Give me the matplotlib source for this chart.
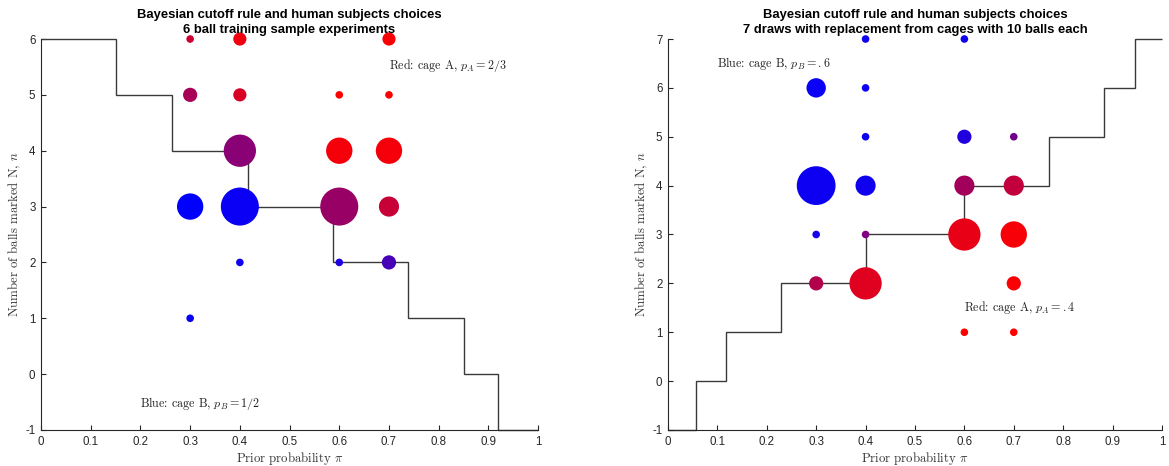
import matplotlib
matplotlib.use("Agg")
import matplotlib.pyplot as plt
import numpy as np

# ---- Experiment 1: 6 ball training sample ----
left_prior = [0.3, 0.4, 0.7, 0.3, 0.4, 0.6, 0.7, 0.4, 0.6, 0.7, 0.3, 0.4, 0.6, 0.7, 0.4, 0.6, 0.7, 0.3]
left_n     = [6,   6,   6,   5,   5,   5,   5,   4,   4,   4,   3,   3,   3,   3,   2,   2,   2,   1]
left_count = [1,   3,   3,   3.5, 3,   1,   1,   18,  12,  12,  12,  25,  25,  7,   1,   1,   3.5, 1]
left_shareA = [0.80, 0.94, 0.98, 0.66, 0.85, 1.0, 1.0, 0.54, 0.96, 0.96, 0.0, 0.04, 0.60, 0.78,
               0.06, 0.12, 0.28, 0.03]
left_cut_edges = [0, 0.151, 0.263, 0.416, 0.587, 0.739, 0.850, 0.919, 1.0]
left_cut_levels = [6, 5, 4, 3, 2, 1, 0, -1]

# ---- Experiment 2: 7 draws with replacement ----
right_prior = [0.4, 0.6, 0.3, 0.4, 0.4, 0.6, 0.7, 0.3, 0.4, 0.6, 0.7, 0.3, 0.4, 0.6, 0.7, 0.3, 0.4, 0.7, 0.6, 0.7]
right_n     = [7,   7,   6,   6,   5,   5,   5,   4,   4,   4,   4,   3,   3,   3,   3,   2,   2,   2,   1,   1]
right_count = [1,   1,   6.5, 1,   1,   3.5, 1,   26,  7,   7,   7,   1,   1,   18,  12,  3.5, 18,  3.5, 1,   1]
right_shareA = [0.06, 0.06, 0.04, 0.05, 0.06, 0.13, 0.45, 0.05, 0.06, 0.64, 0.76, 0.08, 0.50, 0.91,
                0.97, 0.70, 0.88, 0.98, 1.0, 1.0]
right_cut_edges = [0, 0.056, 0.117, 0.229, 0.401, 0.600, 0.772, 0.883, 0.945, 1.0]
right_cut_levels = [-1, 0, 1, 2, 3, 4, 5, 6, 7]

x_ticks = [0, 0.1, 0.2, 0.3, 0.4, 0.5, 0.6, 0.7, 0.8, 0.9, 1]
x_ticklabels = ["0", "0.1", "0.2", "0.3", "0.4", "0.5", "0.6", "0.7", "0.8", "0.9", "1"]

plt.rcParams["mathtext.fontset"] = "cm"
plt.rcParams["axes.unicode_minus"] = False

AX_COLOR = "#262626"
SIZE_PER_SUBJECT = 30


def mix(share):
    return [(s, 0.0, 1.0 - s) for s in share]


def draw_panel(ax, prior, n, count, share, edges, levels, ymin, ymax, title, notes):
    ax.stairs(levels, edges, baseline=None, color="#3a3a3a", lw=1.0, zorder=2, clip_on=False)
    ax.scatter(prior, n, s=np.asarray(count) * SIZE_PER_SUBJECT, c=mix(share),
               edgecolors="none", zorder=3, clip_on=False)
    ax.set_xlim(0, 1)
    ax.set_ylim(ymin, ymax)
    ax.set_xticks(x_ticks)
    ax.set_xticklabels(x_ticklabels)
    ax.set_yticks(range(ymin, ymax + 1))
    for side in ("top", "right"):
        ax.spines[side].set_visible(False)
    for side in ("left", "bottom"):
        ax.spines[side].set_color(AX_COLOR)
        ax.spines[side].set_linewidth(0.8)
    ax.tick_params(direction="in", length=3.5, width=0.8, color=AX_COLOR,
                   labelcolor=AX_COLOR, labelsize=8.3, pad=4)
    for lab in ax.get_xticklabels() + ax.get_yticklabels():
        lab.set_fontfamily("Liberation Sans")
    ax.set_title(title, fontsize=9.4, fontweight="bold", family="Liberation Sans",
                 pad=4, linespacing=1.4)
    ax.set_xlabel(r"Prior probability $\pi$", family="cmr10", fontsize=9.2, color="#333333", labelpad=2)
    ax.set_ylabel(r"Number of balls marked N, $n$", family="cmr10", fontsize=9.2, color="#333333",
                  labelpad=1.5)
    for x, y, s in notes:
        ax.text(x, y, s, family="cmr10", fontsize=8.7, color="#222222", va="center", ha="left")


fig = plt.figure(figsize=(11.69, 4.66), dpi=100)
ax1 = fig.add_axes([0.0351, 0.0773, 0.4252, 0.839])
ax2 = fig.add_axes([0.5714, 0.0773, 0.4226, 0.839])

draw_panel(ax1, left_prior, left_n, left_count, left_shareA, left_cut_edges, left_cut_levels,
           -1, 6, "Bayesian cutoff rule and human subjects choices\n6 ball training sample experiments",
           [(0.70, 5.52, r"Red: cage A, $p_A = 2/3$"), (0.20, -0.52, r"Blue: cage B, $p_B = 1/2$")])
draw_panel(ax2, right_prior, right_n, right_count, right_shareA, right_cut_edges, right_cut_levels,
           -1, 7, "Bayesian cutoff rule and human subjects choices\n7 draws with replacement from cages with 10 balls each",
           [(0.10, 6.5, r"Blue: cage B, $p_B = .6$"), (0.60, 1.5, r"Red: cage A, $p_A = .4$")])

fig.savefig("out.png", dpi=100)
